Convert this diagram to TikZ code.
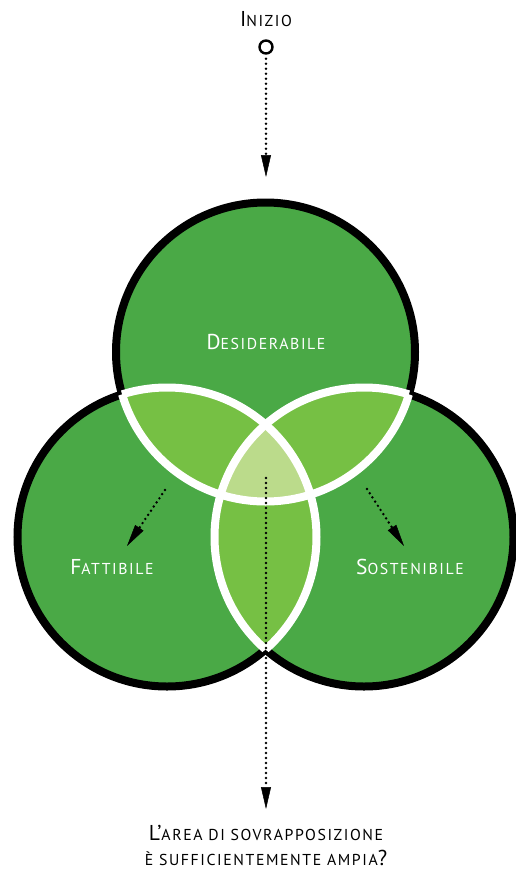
\documentclass[tikz,border=0pt]{standalone}
\usepackage{fontspec}
\setmainfont{PT Sans}
\usetikzlibrary{arrows.meta}

\definecolor{vgreen}{RGB}{74,169,70}
\definecolor{vlens}{RGB}{118,192,68}
\definecolor{vcore}{RGB}{187,219,139}

% small caps built by hand: a full-size initial followed by smaller capitals
\newcommand\capinit[1]{{\fontsize{21.5}{21.5}\selectfont #1}}
\newcommand\caprest[1]{{\fontsize{15.8}{15.8}\selectfont\addfontfeature{LetterSpace=10}#1}}

\newcommand\rr{149.5pt}

\begin{document}
\begin{tikzpicture}[x=1pt,y=-1pt,
  dotline/.style={line width=2.7pt, dash pattern=on 0pt off 5pt, line cap=round,
    -{Triangle[length=22pt,width=10pt,line width=0.5pt]}},
  ring/.style={line width=8pt},
  label/.style={inner sep=0pt, text=white},
  caption/.style={inner sep=0pt, text=black, align=center}]
\useasboundingbox (0,0) rectangle (515,871);

\coordinate (cT) at (265.5,352);
\coordinate (cL) at (167,537);
\coordinate (cR) at (364,537);

% circle bodies
\fill[vgreen] (cT) circle (\rr) (cL) circle (\rr) (cR) circle (\rr);
% pairwise overlaps
\begin{scope}
  \clip (cT) circle (\rr);
  \fill[vlens] (cL) circle (\rr);
  \fill[vlens] (cR) circle (\rr);
\end{scope}
\begin{scope}
  \clip (cL) circle (\rr);
  \fill[vlens] (cR) circle (\rr);
\end{scope}
% triple overlap
\begin{scope}
  \clip (cT) circle (\rr);
  \clip (cL) circle (\rr);
  \fill[vcore] (cR) circle (\rr);
\end{scope}

% black rim: each circle outside the other two
\foreach \a/\b/\c in {cT/cL/cR, cL/cT/cR, cR/cT/cL}{
  \begin{scope}[even odd rule]
    \clip (-100,-100) rectangle (700,1000) (\b) circle (\rr);
    \clip (-100,-100) rectangle (700,1000) (\c) circle (\rr);
    \draw[ring, black] (\a) circle (\rr);
  \end{scope}
}
% white seams: each circle inside the other two
\foreach \a/\b/\c in {cT/cL/cR, cL/cT/cR, cR/cT/cL}{
  \begin{scope}
    \clip (\b) circle (\rr) (\c) circle (\rr);
    \draw[ring, white] (\a) circle (\rr);
  \end{scope}
}

% labels
\node[label] (des) at (266,342) {\capinit{D}\caprest{ESIDERABILE}};
\node[label] (fat) at (112,567) {\capinit{F}\caprest{ATTIBILE}};
\node[label] (sos) at (410,567) {\capinit{S}\caprest{OSTENIBILE}};

% start marker and title
\node[caption] (inizio) at (266,19) {\capinit{I}\caprest{NIZIO}};
\node[circle, draw, line width=2.4pt, minimum size=13pt, inner sep=0pt] (start) at (266,47) {};
\coordinate (topend) at (266,177);
\draw[dotline, shorten <=4pt] (start.south) -- (topend);

% arrows leaving the overlap
\coordinate (ctrA) at (266,478);
\coordinate (ctrB) at (266,809);
\draw[dotline] (ctrA) -- (ctrB);
\coordinate (lftA) at (165,490);
\coordinate (lftB) at (127,546);
\draw[dotline] (lftA) -- (lftB);
\coordinate (rgtA) at (367,489);
\coordinate (rgtB) at (404,546);
\draw[dotline] (rgtA) -- (rgtB);

% closing question
\node[caption] (q1) at (266,833) {\capinit{L'}\caprest{AREA DI SOVRAPPOSIZIONE}};
\node[caption] (q2) at (266,858) {\caprest{È SUFFICIENTEMENTE AMPIA}\capinit{?}};
\end{tikzpicture}
\end{document}
